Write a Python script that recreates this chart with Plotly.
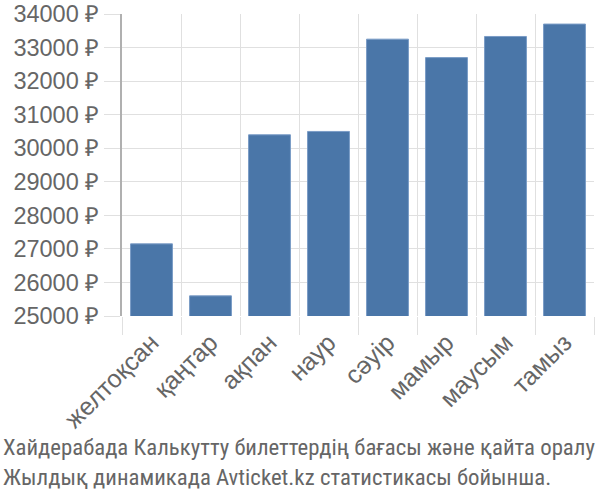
import plotly.graph_objects as go

months = ["желтоқсан", "қаңтар", "ақпан", "наур", "сәуір", "мамыр", "маусым", "тамыз"]
prices = [27150, 25600, 30400, 30500, 33250, 32700, 33330, 33700]
y_ticks = [25000, 26000, 27000, 28000, 29000, 30000, 31000, 32000, 33000, 34000]
y_tick_text = [f"{v} ₽" for v in y_ticks]
title_lines = ["Хайдерабада Калькутту билеттердің бағасы және қайта оралу",
               "Жылдық динамикада Avticket.kz статистикасы бойынша."]

fig = go.Figure(go.Bar(
    x=months, y=prices,
    marker=dict(color="#4a76a8", line=dict(color="#7a9cc6", width=1)),
))

fig.update_layout(
    width=600, height=500,
    margin=dict(l=122, r=6, t=14, b=184),
    paper_bgcolor="white", plot_bgcolor="white",
    bargap=0.29,
    showlegend=False,
    font=dict(family="Liberation Sans, Arial, sans-serif", size=24, color="#666666"),
)
fig.update_xaxes(
    type="category", tickson="boundaries",
    showgrid=True, gridcolor="#e0e0e0", gridwidth=1,
    ticks="outside", ticklen=18, tickcolor="#e0e0e0",
    tickangle=-45, ticklabelstandoff=6,
    showline=False, automargin=False,
    tickfont=dict(size=25, color="#666666"),
)
fig.update_yaxes(
    range=[25000, 34000],
    tickvals=y_ticks, ticktext=y_tick_text,
    showgrid=True, gridcolor="#e0e0e0", gridwidth=1,
    ticks="outside", ticklen=16, tickcolor="#e0e0e0",
    showline=True, linecolor="#b0b0b0", linewidth=2,
    zeroline=False, automargin=False,
    tickfont=dict(size=23.5, color="#666666"),
)

fig.add_annotation(
    text="<br>".join(title_lines), xref="paper", yref="paper",
    x=0, y=0, xanchor="left", yanchor="top",
    xshift=-121, yshift=-116, showarrow=False, align="left",
    font=dict(family="Liberation Sans Narrow, Roboto Condensed, Liberation Sans, sans-serif", size=22.8, color="#666666"),
)

fig.write_html("out.html")
